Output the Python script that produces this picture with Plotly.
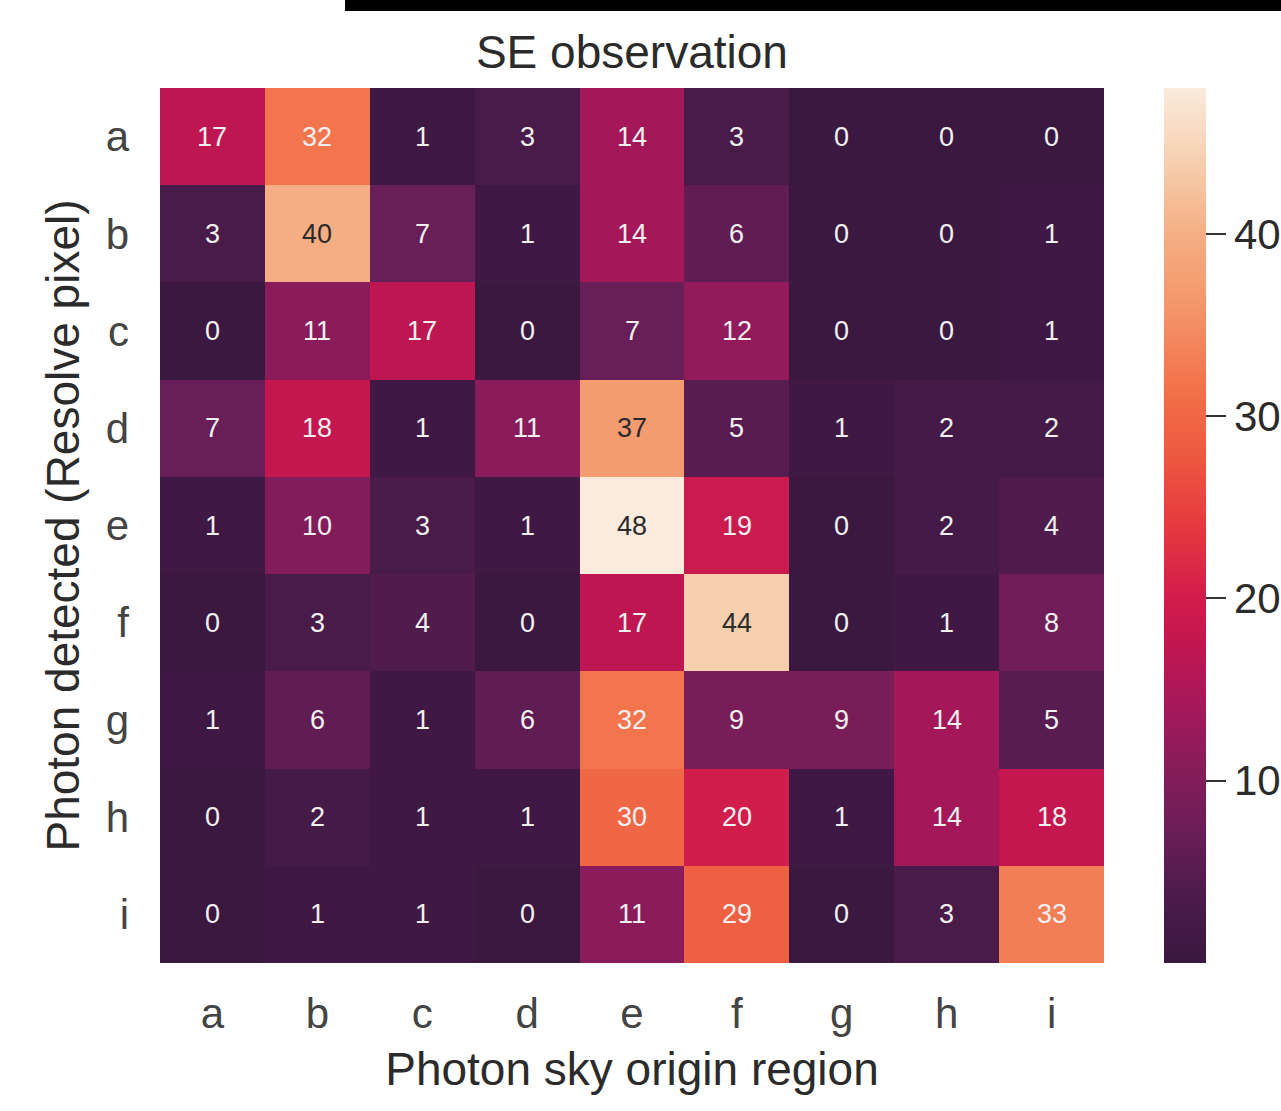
import plotly.graph_objects as go

# === DATOS ===
regions = ["a", "b", "c", "d", "e", "f", "g", "h", "i"]
detected = ["a", "b", "c", "d", "e", "f", "g", "h", "i"]

counts_a = [17, 32, 1, 3, 14, 3, 0, 0, 0]
counts_b = [3, 40, 7, 1, 14, 6, 0, 0, 1]
counts_c = [0, 11, 17, 0, 7, 12, 0, 0, 1]
counts_d = [7, 18, 1, 11, 37, 5, 1, 2, 2]
counts_e = [1, 10, 3, 1, 48, 19, 0, 2, 4]
counts_f = [0, 3, 4, 0, 17, 44, 0, 1, 8]
counts_g = [1, 6, 1, 6, 32, 9, 9, 14, 5]
counts_h = [0, 2, 1, 1, 30, 20, 1, 14, 18]
counts_i = [0, 1, 1, 0, 11, 29, 0, 3, 33]

z = [counts_a, counts_b, counts_c, counts_d, counts_e,
     counts_f, counts_g, counts_h, counts_i]

cbar_ticks = [10, 20, 30, 40]

# === ESTILO ===
rocket_like = [
    [0.00, "#3a1840"], [0.07, "#4a1b4a"], [0.15, "#6a1e57"],
    [0.23, "#8a1c5b"], [0.30, "#a8185a"], [0.37, "#c4164f"],
    [0.42, "#d21d4b"], [0.50, "#e6393f"], [0.58, "#ed5840"],
    [0.65, "#f26f47"], [0.75, "#f4956a"], [0.83, "#f5ad82"],
    [0.92, "#f7d0b1"], [1.00, "#faebdd"],
]
font_family = "Liberation Sans, Arial, sans-serif"

fig = go.Figure(go.Heatmap(
    z=z, x=regions, y=detected,
    zmin=0, zmax=48,
    colorscale=rocket_like,
    xgap=0, ygap=0,
    hoverinfo="skip",
    colorbar=dict(
        x=1.0636, xanchor="left", xpad=0,
        y=0, yanchor="bottom", len=1, lenmode="fraction", ypad=0,
        thickness=42, outlinewidth=0,
        tickvals=cbar_ticks, ticks="outside", ticklen=20, tickwidth=2,
        tickcolor="#333333",
        tickfont=dict(size=42, color="#2b2b2b", family=font_family),
    ),
))

# anotaciones en cada celda
for yi, row in enumerate(z):
    for xi, val in enumerate(row):
        fig.add_annotation(
            x=regions[xi], y=detected[yi], text=str(val), showarrow=False,
            font=dict(size=27, family=font_family,
                      color="#2b2b2b" if val >= 35 else "#f0f0f0"),
        )

fig.update_xaxes(
    title=dict(text="Photon sky origin region", standoff=16,
               font=dict(size=46, color="#2b2b2b", family=font_family)),
    tickfont=dict(size=42, color="#444444", family=font_family),
    ticks="", ticklabelstandoff=22, showgrid=False, zeroline=False,
    automargin=False,
)
fig.update_yaxes(
    title=dict(text="Photon detected (Resolve pixel)", standoff=11,
               font=dict(size=46, color="#2b2b2b", family=font_family)),
    tickfont=dict(size=42, color="#444444", family=font_family),
    ticks="", ticklabelstandoff=30, autorange="reversed",
    showgrid=False, zeroline=False, automargin=False,
)

# barra negra en la parte superior (recorte de la imagen original)
fig.add_shape(type="rect", xref="paper", yref="paper",
              x0=0.196, x1=1.2, y0=1.088, y1=1.15,
              fillcolor="black", line_width=0, layer="above")

fig.update_layout(
    width=1281, height=1111,
    margin=dict(l=160, r=177, t=88, b=148, autoexpand=False),
    paper_bgcolor="white", plot_bgcolor="white",
    title=dict(text="SE observation", x=0.4933, xanchor="center",
               y=0.953, yanchor="middle",
               font=dict(size=46, color="#2b2b2b", family=font_family)),
)

# sin margen del body para que la figura empiece en (0, 0)
fig.write_html("out.html", config={"displayModeBar": False},
               post_script="document.body.style.margin='0px';")
